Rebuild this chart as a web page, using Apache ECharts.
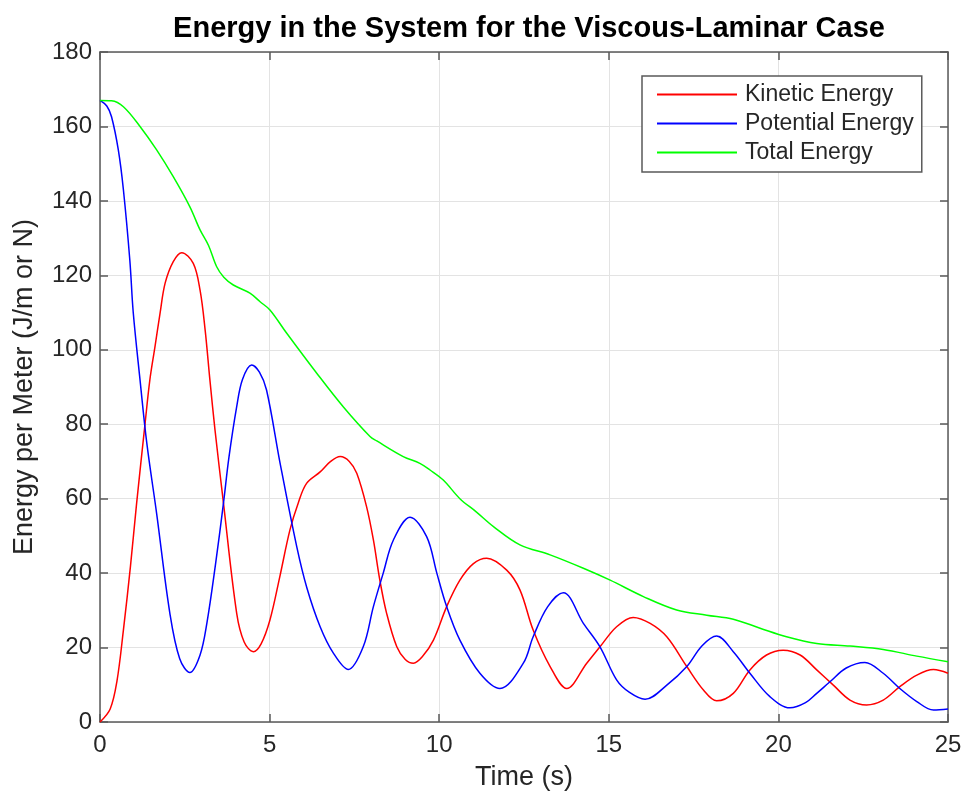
<!DOCTYPE html>
<html>
<head>
<meta charset="utf-8">
<script src="https://cdn.jsdelivr.net/npm/echarts@6/dist/echarts.min.js"></script>
<style>html,body{margin:0;padding:0;background:#fff}#c{width:967px;height:799px}</style>
</head>
<body>
<div id="c"></div>
<script>
const titleText = 'Energy in the System for the Viscous-Laminar Case';
const xName = 'Time (s)';
const yName = 'Energy per Meter (J/m or N)';
const seriesNames = ['Kinetic Energy', 'Potential Energy', 'Total Energy'];

const kineticT = [0,0.3,0.5,0.69,0.9,1.08,1.33,1.47,1.62,1.77,1.92,2.16,2.41,2.75,2.95,3.1,3.24,3.39,3.64,4.03,4.25,4.52,4.75,5.01,5.3,5.6,5.85,6.09,6.49,6.8,7.08,7.35,7.57,7.86,8.06,8.25,8.45,8.75,9.0,9.24,9.5,9.83,10.22,10.61,11.0,11.4,11.99,12.38,12.77,13.27,13.76,14.35,14.74,15.23,15.72,16.22,16.71,17.3,17.79,18.18,18.67,19.16,19.65,20.14,20.64,21.13,21.62,22.11,22.6,23.09,23.58,24.08,24.57,25];
const kineticE = [0,3.5,11,24.7,42,58.8,80.3,91.9,100.8,109.8,117.9,123.7,126.1,123.2,116,105.3,91.9,78.5,58.8,29.2,21.5,18.9,21,27.4,39,51.6,59,64.1,67.2,70,71.3,70,66.8,57.8,48.9,38.1,29.2,20.2,16.8,15.8,17.5,22,31,38.1,42.5,44,40.8,35.5,24.7,14.9,9.0,15.8,20.2,25.6,28.1,26.5,22.9,14.9,8.6,5.7,7.7,14,18,19.3,18,14,9.9,5.9,4.6,5.9,9.5,12.6,14.1,13.1];

const potentialT = [0,0.2,0.34,0.54,0.69,0.88,0.98,1.18,1.38,1.67,2.06,2.35,2.65,2.95,3.15,3.4,3.64,3.8,4.03,4.2,4.47,4.7,4.91,5.31,5.8,6.1,6.49,6.88,7.32,7.76,8.06,8.35,8.65,9.14,9.63,9.93,10.22,10.61,11.2,11.79,12.48,12.77,13.2,13.66,14.25,14.74,15.23,15.6,16.07,16.71,17.3,17.75,18.18,18.67,19.16,19.75,20.34,20.8,21.13,21.52,22.0,22.55,23.09,23.58,24.08,24.57,25];
const potentialE = [167,165.5,162.6,153.7,143,124,110,91.9,74.9,56,29.2,17,13.3,18,26.5,42,58.8,71,84.7,92,95.9,94,89.2,69.5,47.1,36,25.6,18.5,14.1,20.2,31,40,48.9,55,49.8,40,31,22,13.1,9.0,15.8,22.9,31,34.7,26.5,20.2,11.3,8,6.1,9.9,14.9,20.5,23.1,18.9,13.1,6.8,3.8,5.2,7.7,10.8,14.5,16,13.1,9.0,5.5,3.2,3.5];

const totalT = [0,0.34,0.69,1.18,1.67,2.16,2.65,2.95,3.2,3.44,3.65,3.93,4.42,4.72,5.01,5.5,6.39,7.17,7.96,8.16,8.94,9.43,9.73,10.12,10.61,11.1,11.6,12.38,13.27,14.25,15.04,16.02,17.0,17.89,18.67,19.46,20.24,21.13,22.11,23.09,24.08,25];
const totalE = [167,166.9,165.3,160,153.7,146.5,138.4,132.2,128,122.3,119.5,117.4,115.2,112.9,110.7,104.5,93.7,84.7,76.7,75.5,71.3,69.5,67.7,65,60,56.4,52.5,47.6,44.9,41.3,38.1,33.7,30.1,28.7,27.6,25.2,22.9,21.1,20.4,19.5,17.7,16.2];

const xTicks = [0,5,10,15,20,25];
const yTicks = [0,20,40,60,80,100,120,140,160,180];

const pairs = (t, v) => t.map((x, i) => [x, v[i]]);
const FONT = '"Liberation Sans", Arial, Helvetica, sans-serif';
const TXT = '#262626';
const AX = '#5a5a5a';

const chart = echarts.init(document.getElementById('c'), null, {renderer: 'canvas'});
const baseAxis = {
  type: 'value',
  axisLine: {show: true, onZero: false, lineStyle: {color: AX, width: 1.5}},
  axisTick: {show: true, inside: true, length: 8, lineStyle: {color: AX, width: 1.5}},
};
chart.setOption({
  animation: false,
  backgroundColor: '#fff',
  title: {
    text: titleText, left: 524, textAlign: 'center', top: 9,
    textStyle: {fontFamily: FONT, fontSize: 29, fontWeight: 'bold', color: '#000'}
  },
  grid: {left: 100, right: 19, top: 52, bottom: 77, containLabel: false},
  legend: {
    orient: 'vertical', left: 642, top: 76,
    padding: [7, 8, 8, 15], itemGap: 6,
    itemWidth: 80, itemHeight: 2, icon: 'rect',
    backgroundColor: '#fff', borderColor: AX, borderWidth: 1.5,
    textStyle: {fontFamily: FONT, fontSize: 23, color: TXT, lineHeight: 23, padding: [0,0,0,3]},
    data: seriesNames
  },
  xAxis: [
    Object.assign({}, baseAxis, {
      min: 0, max: 25, interval: 5, position: 'bottom',
      name: xName, nameLocation: 'middle', nameGap: 42,
      nameTextStyle: {fontFamily: FONT, fontSize: 27, color: TXT},
      axisLabel: {fontFamily: FONT, fontSize: 24, color: TXT, margin: 11,
        formatter: v => xTicks.includes(v) ? String(v) : ''},
      splitLine: {show: true, lineStyle: {color: '#e3e3e3', width: 1}}
    }),
    Object.assign({}, baseAxis, {
      min: 0, max: 25, interval: 5, position: 'top',
      axisLabel: {show: false}, splitLine: {show: false}
    })
  ],
  yAxis: [
    Object.assign({}, baseAxis, {
      min: 0, max: 180, interval: 20, position: 'left',
      name: yName, nameLocation: 'middle', nameGap: 62, nameRotate: 90,
      nameTextStyle: {fontFamily: FONT, fontSize: 27, color: TXT},
      axisLabel: {fontFamily: FONT, fontSize: 24, color: TXT, margin: 8,
        formatter: v => yTicks.includes(v) ? String(v) : ''},
      splitLine: {show: true, lineStyle: {color: '#e3e3e3', width: 1}}
    }),
    Object.assign({}, baseAxis, {
      min: 0, max: 180, interval: 20, position: 'right',
      axisLabel: {show: false}, splitLine: {show: false}
    })
  ],
  series: [
    {name: seriesNames[0], type: 'line', data: pairs(kineticT, kineticE), showSymbol: false, smooth: 0.35,
      color: '#ff0000', lineStyle: {color: '#ff0000', width: 1.5}},
    {name: seriesNames[1], type: 'line', data: pairs(potentialT, potentialE), showSymbol: false, smooth: 0.35,
      color: '#0000ff', lineStyle: {color: '#0000ff', width: 1.5}},
    {name: seriesNames[2], type: 'line', data: pairs(totalT, totalE), showSymbol: false, smooth: 0.35,
      color: '#00ff00', lineStyle: {color: '#00ff00', width: 1.5}}
  ]
});
</script>
</body>
</html>
